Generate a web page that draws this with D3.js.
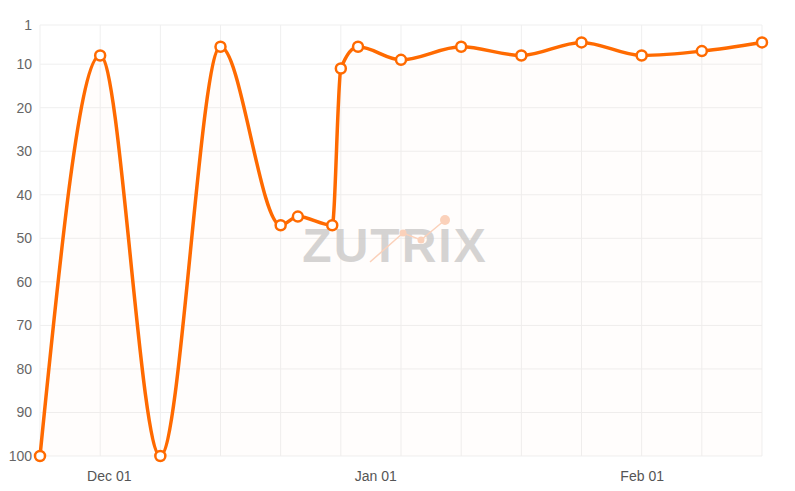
<!DOCTYPE html>
<html>
<head>
<meta charset="utf-8">
<script src="https://cdn.jsdelivr.net/npm/d3@7"></script>
<style>
  body { margin: 0; background: #fff; }
  #chart { width: 795px; height: 491px; }
  text { font-family: "Liberation Sans", Arial, sans-serif; }
</style>
</head>
<body>
<div id="chart"></div>
<script>
// data: ranking points
const dates = ["2023-11-23", "2023-11-30", "2023-12-07", "2023-12-14", "2023-12-21", "2023-12-23",
               "2023-12-27", "2023-12-28", "2023-12-30", "2024-01-04", "2024-01-11", "2024-01-18",
               "2024-01-25", "2024-02-01", "2024-02-08", "2024-02-15"];
const ranks = [100, 8, 100, 6, 47, 45, 47, 11, 6, 9, 6, 8, 5, 8, 7, 5];
const yTicks = [1, 10, 20, 30, 40, 50, 60, 70, 80, 90, 100];

const parse = d3.timeParse("%Y-%m-%d");
const data = dates.map((d, i) => ({ date: parse(d), rank: ranks[i] }));

const margin = { top: 25, right: 33, bottom: 35, left: 40 },
      width = 795 - margin.left - margin.right,
      height = 491 - margin.top - margin.bottom;

const svg = d3.select("#chart")
    .append("svg")
        .attr("width", 795)
        .attr("height", 491)
    .append("g")
        .attr("transform", `translate(${margin.left},${margin.top})`);

const x = d3.scaleTime()
    .domain(d3.extent(data, d => d.date))
    .range([0, width]);

const y = d3.scaleLinear()
    .domain([1, 100])
    .range([0, height]);

// grid
svg.append("g")
    .selectAll("line")
    .data(yTicks)
    .join("line")
        .attr("x1", 0).attr("x2", width)
        .attr("y1", d => y(d)).attr("y2", d => y(d))
        .attr("stroke", "#efefef");

// weekly vertical lines starting at the first date
const start = x.domain()[0];
const weeks = d3.range(0, 13).map(i => d3.timeDay.offset(start, i * 7));
svg.append("g")
    .selectAll("line")
    .data(weeks)
    .join("line")
        .attr("x1", d => x(d)).attr("x2", d => x(d))
        .attr("y1", 0).attr("y2", height)
        .attr("stroke", "#efefef");

// watermark
const wm = svg.append("g").attr("transform", `translate(${width / 2 - 6},${220})`);
wm.append("text")
    .attr("x", 0).attr("y", 17)
    .attr("text-anchor", "middle")
    .style("font-size", "48px")
    .style("font-weight", "bold")
    .style("letter-spacing", "2px")
    .attr("fill", "#c8c8c8")
    .attr("fill-opacity", 0.75)
    .text("ZUTRIX");
const icon = [[-25, 17], [8, -12], [26, -5], [50, -25]];
wm.append("path")
    .attr("d", d3.line()(icon))
    .attr("fill", "none")
    .attr("stroke", "#fbd3bd")
    .attr("stroke-width", 1.5);
wm.selectAll("circle")
    .data(icon.slice(1))
    .join("circle")
        .attr("cx", d => d[0]).attr("cy", d => d[1])
        .attr("r", (d, i) => i === 2 ? 5 : 3.5)
        .attr("fill", "#fbd3bd");

// area + line
const curve = d3.curveMonotoneX;
svg.append("path")
    .datum(data)
    .attr("fill", "#ff6a00")
    .attr("fill-opacity", 0.013)
    .attr("d", d3.area().curve(curve).x(d => x(d.date)).y0(height).y1(d => y(d.rank)));

svg.append("path")
    .datum(data)
    .attr("fill", "none")
    .attr("stroke", "#ff6a00")
    .attr("stroke-width", 3.5)
    .attr("d", d3.line().curve(curve).x(d => x(d.date)).y(d => y(d.rank)));

svg.append("g")
    .selectAll("circle")
    .data(data)
    .join("circle")
        .attr("cx", d => x(d.date))
        .attr("cy", d => y(d.rank))
        .attr("r", 5)
        .attr("fill", "#fff")
        .attr("stroke", "#ff6a00")
        .attr("stroke-width", 2.5);

// axes
const yAxis = svg.append("g")
    .call(d3.axisLeft(y).tickValues(yTicks).tickSize(0).tickPadding(8));
yAxis.select(".domain").remove();
yAxis.selectAll("text")
    .style("font-size", "14px")
    .style("font-family", "Liberation Sans, Arial, sans-serif")
    .attr("fill", "#666");

const xAxis = svg.append("g")
    .attr("transform", `translate(0,${height})`)
    .call(d3.axisBottom(x).ticks(d3.timeMonth.every(1)).tickFormat(d3.timeFormat("%b %d")).tickSize(0).tickPadding(15));
xAxis.select(".domain").remove();
xAxis.selectAll("text")
    .style("font-size", "14px")
    .style("font-family", "Liberation Sans, Arial, sans-serif")
    .attr("fill", "#555");
</script>
</body>
</html>
